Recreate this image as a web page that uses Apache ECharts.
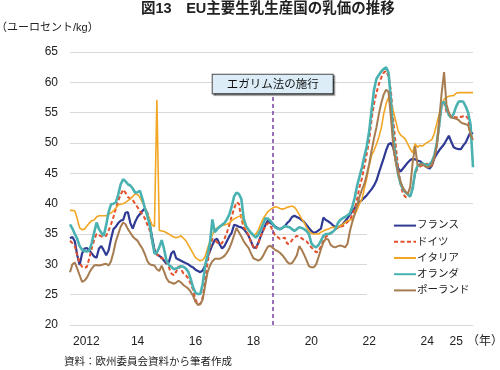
<!DOCTYPE html>
<html>
<head>
<meta charset="utf-8">
<script src="https://cdn.jsdelivr.net/npm/echarts@6/dist/echarts.min.js"></script>
<style>html,body{margin:0;padding:0;background:#fff;}#c{width:500px;height:370px;}</style>
</head>
<body>
<div id="c"></div>
<script>
// Monthly categories Jan 2012 - Dec 2025
const months = [];
for (let y = 2012; y <= 2025; y++) for (let m = 1; m <= 12; m++) months.push(y + '-' + (m < 10 ? '0' + m : m));
const xTickIndex = [0, 24, 48, 72, 96, 120, 144, 156];
const xTickLabels = ['2012', '14', '16', '18', '20', '22', '24', '25'];
const seriesNames = ['フランス', 'ドイツ', 'イタリア', 'オランダ', 'ポーランド'];
const egalimMonth = '2019-01';

const france = [
34.3,34.5,33.8,31.5,29.9,31.8,32.6,32.7,32.3,31.8,31.3,31.1,
32.6,33.0,32.3,31.5,32.3,34.2,35.8,36.2,36.8,37.2,37.3,38.5,
38.6,36.8,35.9,37.0,37.8,38.3,38.8,39.2,38.5,36.8,34.5,32.4,
31.6,31.4,31.1,30.6,30.1,30.4,31.8,32.2,31.0,30.8,30.6,30.4,
30.2,30.0,29.7,29.5,29.1,28.9,28.7,29.0,29.8,31.2,32.2,33.2,
34.0,34.2,33.3,32.6,33.0,33.8,34.6,35.2,36.5,36.4,36.2,36.1,
35.8,35.3,34.7,33.8,32.8,32.7,33.5,34.6,35.6,36.5,37.2,36.8,
36.6,36.2,36.0,35.8,36.0,36.3,36.8,37.2,37.8,38.0,37.8,37.6,
37.3,37.0,36.5,36.0,35.5,35.2,35.3,35.6,35.9,37.7,37.3,37.1,
36.8,36.4,36.2,36.1,36.3,36.6,37.1,37.6,38.2,38.7,39.3,39.8,
40.3,40.6,41.0,41.4,41.9,42.4,43.0,43.8,45.1,46.3,47.5,48.8,
49.8,50.0,49.2,47.2,45.8,45.3,45.8,46.3,46.8,47.2,47.4,47.3,
47.1,47.0,46.7,46.3,46.0,45.8,46.3,47.5,48.2,48.8,49.3,49.8,
50.5,51.2,50.2,49.3,49.1,49.0,49.0,49.6,50.1,51.0,51.8,51.5];

const germany = [
33.9,33.5,33.0,31.5,30.2,29.6,29.4,29.6,31.0,32.6,34.0,35.0,
34.8,34.6,34.6,34.7,35.6,36.6,37.8,39.2,40.5,41.5,42.3,41.8,
41.1,40.8,40.6,40.0,39.4,38.8,38.2,37.6,36.6,35.6,33.8,32.4,
31.8,31.1,31.0,30.9,30.4,29.5,28.5,28.2,28.8,29.7,29.2,28.5,
28.2,27.7,26.8,25.8,24.2,23.4,23.5,24.6,27.5,30.3,32.6,34.2,
34.0,33.6,33.3,33.5,34.2,35.2,36.5,37.9,39.2,40.2,40.0,37.5,
36.1,35.5,34.8,33.6,32.9,32.5,33.4,34.6,35.5,36.3,36.8,36.4,
35.6,34.7,34.5,34.2,34.3,34.4,33.4,33.4,34.0,34.4,34.7,34.5,
34.3,34.0,33.8,33.3,32.8,32.4,32.0,32.1,33.0,33.9,34.5,34.9,
35.2,35.4,35.8,36.0,36.2,36.3,36.6,37.0,37.3,38.2,39.2,40.8,
42.8,44.2,46.2,48.3,50.5,54.0,56.5,58.3,59.7,60.8,61.6,61.9,
61.0,58.5,53.6,49.5,45.8,43.2,41.6,41.1,41.0,41.3,42.8,44.9,
45.8,46.1,46.3,46.5,46.6,46.2,46.3,47.5,49.8,52.8,56.2,56.6,
55.2,54.8,54.3,54.3,54.2,54.4,54.3,54.4,54.5,54.0,51.2,50.5];

const italy = [
38.9,38.9,38.8,37.5,36.0,35.7,35.8,36.3,36.8,37.2,37.3,37.8,
38.0,38.0,38.0,38.0,38.2,38.5,38.8,39.3,39.8,39.9,40.0,40.2,
40.5,40.8,41.2,41.6,41.5,41.0,40.2,39.5,38.4,37.5,36.5,36.2,
57.1,35.6,35.5,35.4,35.2,35.0,34.7,34.5,34.4,34.5,34.7,34.3,
33.9,33.2,32.5,31.8,31.1,30.8,30.6,30.7,31.3,32.6,33.8,34.9,
35.6,36.0,36.3,36.4,36.5,36.6,36.8,37.2,37.5,37.7,37.9,38.0,
36.8,36.0,35.5,35.1,34.7,35.0,35.6,36.6,37.5,38.1,38.7,39.0,
39.3,39.5,39.4,39.2,39.1,39.2,39.4,39.5,39.6,39.4,38.9,38.2,
37.5,36.9,36.1,35.5,35.1,35.0,35.0,35.0,35.3,35.5,35.7,35.8,
36.0,36.1,36.1,36.1,36.3,36.6,36.9,37.2,37.3,37.4,38.2,39.0,
40.0,40.8,42.5,44.2,46.3,48.0,48.8,49.8,51.0,52.5,54.8,56.5,
57.5,56.5,55.2,53.6,52.0,51.3,51.0,50.6,49.8,49.0,48.4,49.9,
49.3,49.6,49.5,49.8,50.1,50.3,50.6,51.6,53.2,54.8,56.2,57.2,
57.5,57.7,57.8,57.8,58.2,58.3,58.3,58.3,58.3,58.3,58.3,58.3];

const netherlands = [
36.6,35.9,35.0,34.2,33.0,32.4,32.2,32.1,32.3,33.5,35.2,36.9,
35.8,35.2,34.7,36.5,38.6,39.9,40.0,40.2,41.5,43.2,44.0,43.7,
43.2,43.0,42.5,41.8,41.9,42.1,40.8,39.3,38.0,36.6,34.0,31.8,
31.9,32.8,34.0,32.5,30.6,29.9,29.6,29.2,29.3,29.5,29.7,29.6,
29.3,28.8,27.6,26.2,25.3,25.1,25.1,26.8,29.8,31.5,33.5,37.4,
35.3,35.8,36.2,36.5,36.8,37.4,38.2,39.5,41.2,41.8,41.6,40.8,
37.5,36.3,35.7,35.2,34.8,34.4,34.9,35.7,36.6,37.6,37.5,37.2,
36.7,36.1,35.9,35.8,36.0,36.3,36.2,36.1,35.8,35.5,35.8,36.1,
36.0,35.8,35.5,35.0,33.5,33.0,32.8,33.2,33.9,34.7,35.0,35.0,
35.1,35.4,35.8,36.8,37.3,37.6,37.8,38.1,38.4,39.5,41.0,43.0,
44.5,46.0,47.8,49.5,52.0,55.5,58.8,60.6,61.2,61.8,62.2,62.5,
61.6,57.0,51.0,47.3,44.8,43.3,42.4,41.9,41.5,41.2,42.5,45.2,
46.2,46.5,46.6,46.5,46.3,46.5,47.0,48.0,50.0,53.0,56.5,56.8,
55.8,54.6,54.2,54.8,56.0,56.8,56.9,56.8,56.0,55.0,53.0,46.0];

const poland = [
28.7,30.0,30.3,29.3,28.2,27.1,27.3,27.8,28.6,29.3,29.8,29.9,
29.8,29.9,30.0,30.1,29.8,30.5,32.0,33.8,35.0,36.2,36.9,36.6,
35.8,35.2,34.6,34.2,33.9,33.2,32.6,31.7,30.6,30.0,29.9,29.8,
29.2,28.9,29.8,28.8,27.7,27.1,27.0,26.8,27.0,27.3,27.0,26.6,
26.3,26.0,25.5,24.8,23.8,23.3,23.4,24.2,26.5,28.7,29.8,30.5,
30.9,30.9,30.9,31.1,31.4,31.9,32.6,33.6,34.8,36.0,35.3,34.6,
33.8,33.2,32.7,31.8,31.0,30.8,30.6,30.8,31.4,32.2,32.9,33.1,
32.7,32.4,32.2,31.9,31.5,31.0,30.4,30.1,30.2,30.8,31.5,33.0,
32.4,31.6,30.7,29.7,29.5,29.5,30.0,31.2,32.5,33.6,34.2,34.1,
33.2,32.9,32.8,33.0,33.1,33.0,32.8,33.4,35.5,37.0,38.3,39.8,
41.2,42.3,43.3,44.8,46.6,48.8,50.8,52.6,54.8,56.6,58.0,58.8,
58.4,54.2,49.3,46.8,45.0,43.6,42.6,42.0,41.6,42.8,46.8,49.5,
46.4,46.4,46.5,46.2,46.0,46.1,46.5,47.6,49.5,53.8,58.2,61.7,
56.4,55.0,54.2,54.1,54.0,53.8,53.4,53.2,53.1,52.9,51.5,50.5];

const seriesData = [france, germany, italy, netherlands, poland];
const colors = ['#2f3a94', '#e4502c', '#f2a623', '#4ab1b1', '#a77c50'];
const widths = [2.2, 2, 1.6, 2.6, 2];
const types = ['solid', [4, 2.5], 'solid', 'solid', 'solid'];

const FONT = "'Liberation Sans', 'Noto Sans CJK JP', sans-serif";
const chart = echarts.init(document.getElementById('c'));

const series = seriesNames.map((name, i) => ({
  name: name,
  type: 'line',
  data: seriesData[i],
  symbol: 'none',
  smooth: false,
  lineStyle: { color: colors[i], width: widths[i], type: types[i] },
  itemStyle: { color: colors[i] },
  z: 3 + i
}));

series[0].markLine = {
  silent: true,
  symbol: 'none',
  animation: false,
  lineStyle: { color: '#7b3f9e', width: 1.5, type: [4, 3] },
  label: {
    show: true,
    position: 'end',
    distance: 0,
    formatter: 'エガリム法の施行',
    fontFamily: FONT,
    fontSize: 11.5,
    color: '#111',
    backgroundColor: '#dcedf8',
    borderColor: '#4a4a4a',
    borderWidth: 1,
    padding: [4, 14, 3, 14],
    shadowColor: 'rgba(0,0,0,0.45)',
    shadowOffsetX: 1.5,
    shadowOffsetY: 1.5,
    shadowBlur: 1
  },
  data: [[{ coord: [egalimMonth, 20] }, { coord: [egalimMonth, 58.2] }]]
};

chart.setOption({
  animation: false,
  backgroundColor: '#fff',
  textStyle: { fontFamily: FONT },
  title: [
    { text: '図13　EU主要生乳生産国の乳価の推移', left: 141, top: 2, padding: 0,
      textStyle: { fontFamily: FONT, fontSize: 14.5, fontWeight: 'bold', color: '#222' } },
    { text: '（ユーロセント/kg）', left: -4, top: 22, padding: 0,
      textStyle: { fontFamily: FONT, fontSize: 11, fontWeight: 'normal', color: '#222' } },
    { text: '（年）', left: 467, top: 336, padding: 0,
      textStyle: { fontFamily: FONT, fontSize: 12, fontWeight: 'normal', color: '#222' } },
    { text: '資料：欧州委員会資料から筆者作成', left: 64, top: 357, padding: 0,
      textStyle: { fontFamily: FONT, fontSize: 10.5, fontWeight: 'normal', color: '#222' } }
  ],
  legend: {
    data: seriesNames,
    orient: 'vertical',
    left: 367,
    top: 212,
    backgroundColor: '#fff',
    padding: [8, 4, 12, 26],
    itemWidth: 22,
    itemHeight: 14,
    itemGap: 5,
    itemStyle: { opacity: 0 },
    textStyle: { fontFamily: FONT, fontSize: 10.5, color: '#222', padding: [0, 0, 0, -4] }
  },
  grid: { left: 70, right: 27, top: 52, bottom: 45, containLabel: false },
  xAxis: {
    type: 'category',
    data: months,
    boundaryGap: false,
    axisLine: { show: true, lineStyle: { color: '#d9d9d9', width: 1 } },
    axisTick: { show: false },
    splitLine: { show: false },
    axisLabel: {
      interval: (idx) => xTickIndex.indexOf(idx) >= 0,
      formatter: (val, idx) => { const k = xTickIndex.indexOf(idx); return k >= 0 ? xTickLabels[k] : ''; },
      align: 'left',
      padding: [0, 0, 0, 3],
      margin: 11,
      fontFamily: FONT,
      fontSize: 12,
      color: '#222'
    }
  },
  yAxis: {
    type: 'value',
    min: 20,
    max: 65,
    interval: 5,
    axisLine: { show: false },
    axisTick: { show: false },
    splitLine: { show: true, lineStyle: { color: '#d9d9d9', width: 1 } },
    axisLabel: { margin: 12, fontFamily: FONT, fontSize: 12, color: '#222' }
  },
  series: series
});
</script>
</body>
</html>
